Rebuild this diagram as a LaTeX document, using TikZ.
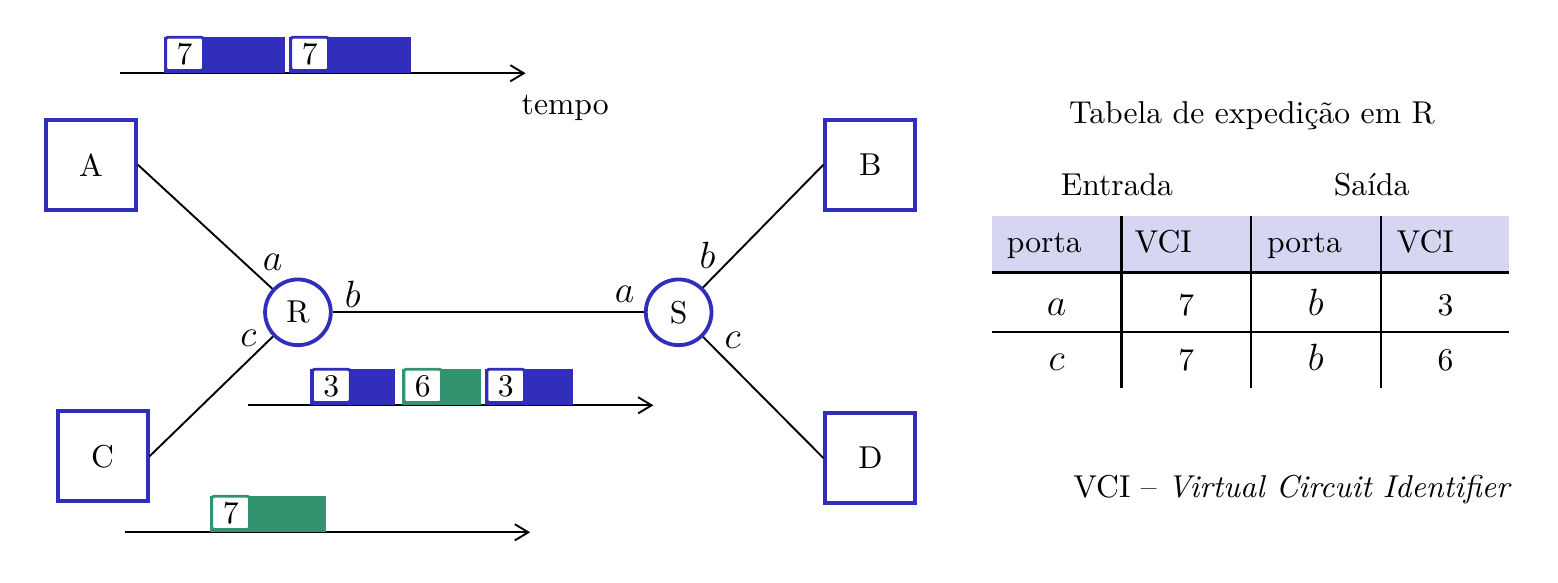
\documentclass[tikz,border=0pt]{standalone}
\usepackage{fontspec}
\usepackage{tikz}
\usetikzlibrary{arrows.meta,positioning}
\definecolor{vciblue}{RGB}{48,46,187}
\definecolor{vcigreen}{RGB}{50,148,110}
\definecolor{headlilac}{RGB}{214,214,242}

\begin{document}
\begin{tikzpicture}[
  host/.style={draw=vciblue, line width=1.2pt, minimum size=1cm, inner sep=0pt},
  switch/.style={circle, draw=vciblue, line width=1.2pt, minimum size=0.73cm, inner sep=0pt},
  link/.style={line width=0.6pt},
  port/.style={inner sep=0pt, font=\large},
  pkt/.style={minimum height=0.4cm, inner sep=0pt, anchor=south west},
  tag/.style={fill=white, line width=0.9pt, rounded corners=0.8pt, minimum width=0.42cm, minimum height=0.37cm, inner sep=0pt, anchor=south west},
  axis/.style={line width=0.6pt, -{Straight Barb[length=1.5mm, width=1.8mm]}},
  cell/.style={inner sep=0pt, anchor=base}
]
\useasboundingbox (0,0) rectangle (17.31,6.47);
% hosts and switches
\node[host] (A) at (1.01,4.64) {A};
\node[host] (C) at (1.14,1.40) {C};
\node[host] (B) at (9.67,4.64) {B};
\node[host] (D) at (9.67,1.38) {D};
\node[switch] (R) at (3.31,3.00) {R};
\node[switch] (S) at (7.54,3.00) {S};
\draw[link] (A.east) -- (R);
\draw[link] (C.east) -- (R);
\draw[link] (R) -- (S);
\draw[link] (S) -- (B.west);
\draw[link] (S) -- (D.west);
% port names
\node[port] (Ra) at (3.03,3.56) {$a$};
\node[port] (Rb) at (3.92,3.20) {$b$};
\node[port] (Rc) at (2.76,2.71) {$c$};
\node[port] (Sa) at (6.94,3.20) {$a$};
\node[port] (Sb) at (7.86,3.63) {$b$};
\node[port] (Sc) at (8.14,2.69) {$c$};
% time lines with cells
\coordinate (topstart) at (1.33,5.656);
\coordinate (topend) at (5.84,5.656);
\draw[axis] (topstart) -- (topend);
\node[pkt, fill=vciblue, minimum width=1.345cm] (top1) at (1.81,5.656) {};
\node[pkt, fill=vciblue, minimum width=1.356cm] (top2) at (3.20,5.656) {};
\node[tag, draw=vciblue] (top1n) at ([shift={(0.015,0.015)}]top1.south west) {7};
\node[tag, draw=vciblue] (top2n) at ([shift={(0.015,0.015)}]top2.south west) {7};
\node (tempo) at (6.28,5.27) {tempo};

\coordinate (midstart) at (2.76,1.967);
\coordinate (midend) at (7.26,1.967);
\draw[axis] (midstart) -- (midend);
\node[pkt, fill=vciblue, minimum width=0.945cm] (mid1) at (3.44,1.967) {};
\node[pkt, fill=vcigreen, minimum width=0.877cm] (mid2) at (4.456,1.967) {};
\node[pkt, fill=vciblue, minimum width=0.978cm] (mid3) at (5.378,1.967) {};
\node[tag, draw=vciblue] (mid1n) at ([shift={(0.015,0.015)}]mid1.south west) {3};
\node[tag, draw=vcigreen] (mid2n) at ([shift={(0.015,0.015)}]mid2.south west) {6};
\node[tag, draw=vciblue] (mid3n) at ([shift={(0.015,0.015)}]mid3.south west) {3};

\coordinate (botstart) at (1.39,0.556);
\coordinate (botend) at (5.89,0.556);
\draw[axis] (botstart) -- (botend);
\node[pkt, fill=vcigreen, minimum width=1.289cm] (bot1) at (2.322,0.556) {};
\node[tag, draw=vcigreen] (bot1n) at ([shift={(0.015,0.015)}]bot1.south west) {7};
% forwarding table of R
\node[cell] (title) at (13.91,5.10) {Tabela de expedição em R};
\node[cell] (entrada) at (12.41,4.30) {Entrada};
\node[cell] (saida) at (15.24,4.30) {Saída};
\fill[headlilac] (11.02,3.44) rectangle (16.77,4.07);
\draw[line width=0.9pt] (11.02,3.44) -- (16.77,3.44);
\draw[line width=0.7pt] (11.02,2.78) -- (16.77,2.78);
\foreach \x in {12.46,13.90,15.34}
  \draw[line width=0.7pt] (\x,2.16) -- (\x,4.07);
\node[cell, anchor=base west] (h1) at (11.18,3.667) {porta};
\node[cell, anchor=base west] (h2) at (12.60,3.667) {VCI};
\node[cell, anchor=base west] (h3) at (14.07,3.667) {porta};
\node[cell, anchor=base west] (h4) at (15.51,3.667) {VCI};
\node[cell, font=\large] (r1c1) at (11.74,2.967) {$a$};
\node[cell] (r1c2) at (13.18,2.967) {7};
\node[cell, font=\large] (r1c3) at (14.62,2.967) {$b$};
\node[cell] (r1c4) at (16.06,2.967) {3};
\node[cell, font=\large] (r2c1) at (11.74,2.356) {$c$};
\node[cell] (r2c2) at (13.18,2.356) {7};
\node[cell, font=\large] (r2c3) at (14.62,2.356) {$b$};
\node[cell] (r2c4) at (16.06,2.356) {6};
\node[cell] (legend) at (14.36,0.944) {VCI – \textit{Virtual Circuit Identifier}};
\end{tikzpicture}
\end{document}
